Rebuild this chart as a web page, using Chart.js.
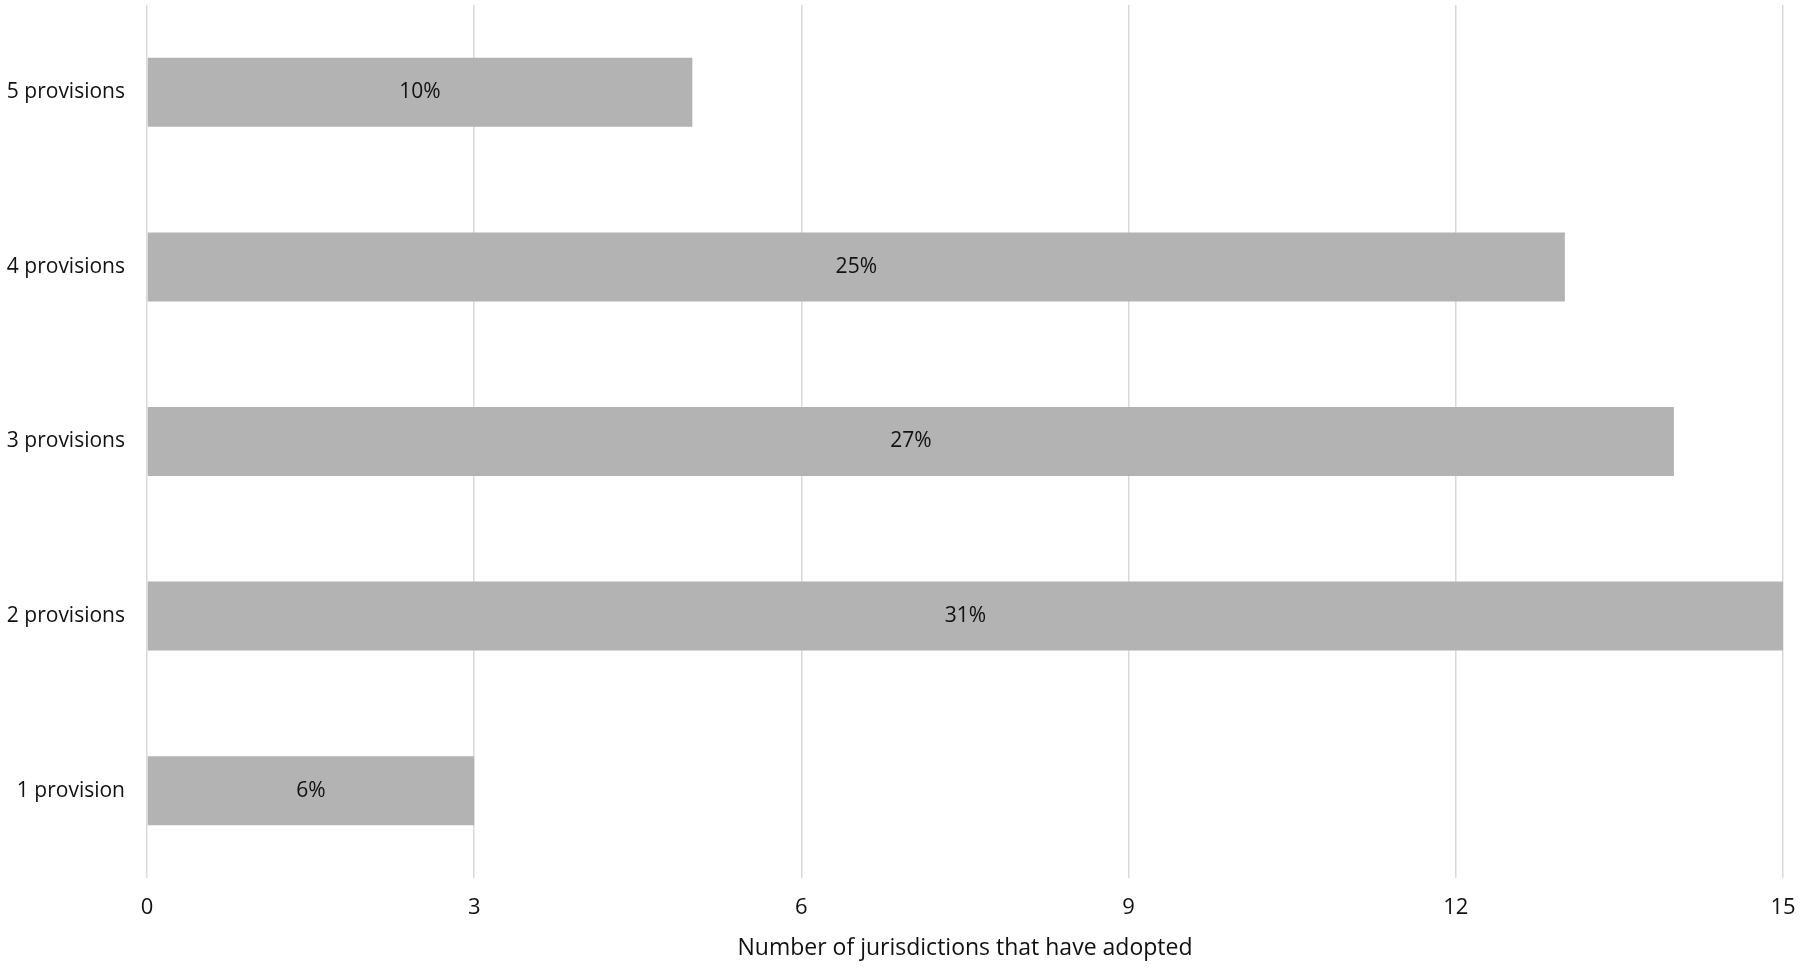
<!DOCTYPE html>
<html>
<head>
<meta charset="utf-8">
<script src="https://cdn.jsdelivr.net/npm/chart.js@4/dist/chart.umd.min.js"></script>
<style>
html,body{margin:0;padding:0;background:#fff;}
#wrap{width:1800px;height:968px;position:relative;}
</style>
</head>
<body>
<div id="wrap"><canvas id="c" width="1800" height="968"></canvas></div>
<script>
const categories = ['5 provisions', '4 provisions', '3 provisions', '2 provisions', '1 provision'];
const counts = [5, 13, 14, 15, 3];
const shareLabels = ['10%', '25%', '27%', '31%', '6%'];
const xAxisTitle = 'Number of jurisdictions that have adopted';
const xMin = 0, xMax = 15, xStep = 3;

const FONT = '"Open Sans", "Liberation Sans", sans-serif';

const barLabelPlugin = {
  id: 'barLabels',
  afterDatasetsDraw(chart) {
    const ctx = chart.ctx;
    const meta = chart.getDatasetMeta(0);
    ctx.save();
    ctx.font = '21px ' + FONT;
    ctx.fillStyle = '#111';
    ctx.textAlign = 'center';
    ctx.textBaseline = 'middle';
    meta.data.forEach((bar, i) => {
      const cx = (bar.x + bar.base) / 2;
      ctx.fillText(shareLabels[i], cx, bar.y);
    });
    ctx.restore();
  }
};

new Chart(document.getElementById('c'), {
  type: 'bar',
  data: {
    labels: categories,
    datasets: [{
      data: counts,
      backgroundColor: '#b3b3b3',
      borderWidth: 0,
      barPercentage: 0.395,
      categoryPercentage: 1.0
    }]
  },
  options: {
    indexAxis: 'y',
    responsive: false,
    animation: false,
    devicePixelRatio: 1,
    layout: { padding: { top: 5, right: 17, bottom: 0, left: 0 } },
    plugins: { legend: { display: false }, tooltip: { enabled: false } },
    scales: {
      x: {
        min: xMin, max: xMax,
        ticks: { stepSize: xStep, color: '#111', font: { family: FONT, size: 22 }, padding: 17 },
        grid: { color: '#d9d9d9', lineWidth: 1.5, drawTicks: false },
        border: { display: false },
        title: { display: true, text: xAxisTitle, color: '#111', font: { family: FONT, size: 23 }, padding: { top: 0, bottom: 6 } },
        afterFit(scale) { scale.height = 90; scale.paddingLeft = 0; scale.paddingRight = 0; }
      },
      y: {
        ticks: { color: '#111', font: { family: FONT, size: 21 }, padding: 22 },
        grid: { display: false, drawTicks: false },
        border: { display: false },
        afterFit(scale) { scale.width = 147; scale.paddingTop = 0; scale.paddingBottom = 0; }
      }
    }
  },
  plugins: [barLabelPlugin]
});
</script>
</body>
</html>
